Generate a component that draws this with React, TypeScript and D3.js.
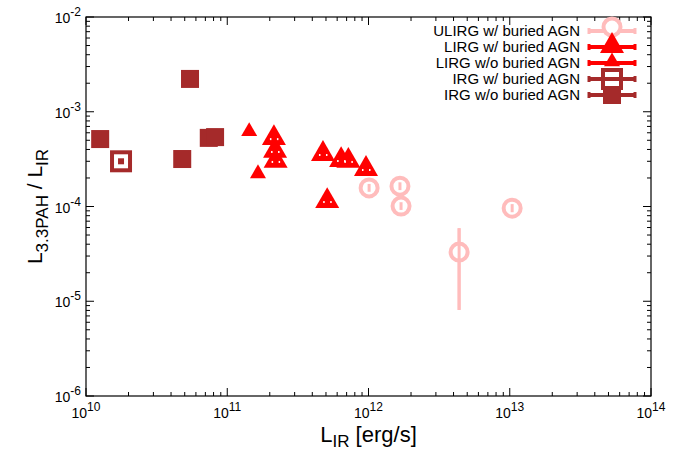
import React from 'react';
import * as d3 from 'd3';

// L_IR [erg/s] and L3.3PAH / L_IR
const ulirgX = [1.01e12, 1.67e12, 1.7e12, 1.04e13, 4.38e12];
const ulirgY = [1.57e-4, 1.64e-4, 1.01e-4, 9.6e-5, 3.3e-5];
const ulirgLo = [1.43e-4, 1.49e-4, 9.2e-5, 8.7e-5, 8.1e-6];
const ulirgHi = [1.73e-4, 1.8e-4, 1.11e-4, 1.06e-4, 5.9e-5];

const lirgAgnX = [2.14e11, 2.18e11, 2.2e11, 4.76e11, 6.4e11, 7.2e11, 9.6e11, 5.1e11];
const lirgAgnY = [5.4e-4, 3.95e-4, 3.1e-4, 3.67e-4, 3.17e-4, 3.1e-4, 2.55e-4, 1.17e-4];

const lirgX = [1.43e11, 1.65e11];
const lirgY = [6.3e-4, 2.26e-4];

const irgAgnX = [1.77e10];
const irgAgnY = [3.0e-4];

const irgX = [1.26e10, 5.45e10, 4.8e10, 7.4e10, 8.2e10];
const irgY = [5.15e-4, 2.22e-3, 3.17e-4, 5.3e-4, 5.4e-4];

const legendLabels = [
  'ULIRG w/ buried AGN',
  'LIRG w/ buried AGN',
  'LIRG w/o buried AGN',
  'IRG w/ buried AGN',
  'IRG w/o buried AGN',
];

const xTickExp = [10, 11, 12, 13, 14];
const yTickExp = [-6, -5, -4, -3, -2];

const PINK = '#ffbcbc';
const RED = '#ff0000';
const BROWN = '#a52a2a';
const FONT = 'Liberation Sans, Arial, Helvetica, sans-serif';

const W = 685, H = 451;
const m = { left: 86, right: 34, top: 17, bottom: 55 };

const x = d3.scaleLog().domain([1e10, 1e14]).range([m.left, W - m.right]);
const y = d3.scaleLog().domain([1e-6, 1e-2]).range([H - m.bottom, m.top]);

const tri = (cx: number, cy: number, w: number) => {
  const h = w * 0.866;
  return `M${cx},${cy - h * 0.62}L${cx + w / 2},${cy + h * 0.38}L${cx - w / 2},${cy + h * 0.38}Z`;
};

const Circle = ({ cx, cy }: { cx: number; cy: number }) => (
  <circle cx={cx} cy={cy} r={8.5} fill="white" stroke={PINK} strokeWidth={4} />
);

const App = () => {
  const [x0, x1] = x.range();
  const [y0, y1] = y.range();

  // minor ticks
  const xMinor: number[] = [];
  for (let e = 10; e < 14; e++) for (let k = 2; k <= 9; k++) xMinor.push(k * 10 ** e);
  const yMinor: number[] = [];
  for (let e = -6; e < -2; e++) for (let k = 2; k <= 9; k++) yMinor.push(k * 10 ** e);

  const legX = 612;
  const legY = (i: number) => 31 + i * 16;

  return (
    <svg width={W} height={H} style={{ position: 'absolute', left: 0, top: 0, background: 'white' }}
      fontFamily={FONT}>
      {/* ticks */}
      <g stroke="black" strokeWidth={1}>
        {xTickExp.map(e => {
          const px = x(10 ** e);
          return <g key={'xt' + e}>
            <line x1={px} x2={px} y1={y0} y2={y0 - 8} />
            <line x1={px} x2={px} y1={y1} y2={y1 + 8} />
          </g>;
        })}
        {xMinor.map((v, i) => {
          const px = x(v);
          return <g key={'xm' + i}>
            <line x1={px} x2={px} y1={y0} y2={y0 - 4} />
            <line x1={px} x2={px} y1={y1} y2={y1 + 4} />
          </g>;
        })}
        {yTickExp.map(e => {
          const py = y(10 ** e);
          return <g key={'yt' + e}>
            <line x1={x0} x2={x0 + 8} y1={py} y2={py} />
            <line x1={x1} x2={x1 - 8} y1={py} y2={py} />
          </g>;
        })}
        {yMinor.map((v, i) => {
          const py = y(v);
          return <g key={'ym' + i}>
            <line x1={x0} x2={x0 + 4} y1={py} y2={py} />
            <line x1={x1} x2={x1 - 4} y1={py} y2={py} />
          </g>;
        })}
      </g>
      <rect x={x0} y={y1} width={x1 - x0} height={y0 - y1} fill="none" stroke="black" strokeWidth={1.2} />

      {/* tick labels */}
      {xTickExp.map(e => (
        <text key={'xl' + e} x={x(10 ** e)} y={y0 + 22} textAnchor="middle" fontSize={14}>
          10<tspan dy={-7} fontSize={12}>{e}</tspan>
        </text>
      ))}
      {yTickExp.map(e => (
        <text key={'yl' + e} x={x0 - 5} y={y(10 ** e) + 6} textAnchor="end" fontSize={14}>
          10<tspan dy={-7} fontSize={12}>{e}</tspan>
        </text>
      ))}

      {/* axis titles */}
      <text x={(x0 + x1) / 2} y={442} textAnchor="middle" fontSize={22}>
        L<tspan dy={5} fontSize={17}>IR</tspan><tspan dy={-5}> [erg/s]</tspan>
      </text>
      <text transform={`translate(42,${(y0 + y1) / 2}) rotate(-90)`} textAnchor="middle" fontSize={21}>
        L<tspan dy={6} fontSize={17}>3.3PAH</tspan><tspan dy={-6}> / L</tspan>
        <tspan dy={6} fontSize={17}>IR</tspan>
      </text>

      {/* ULIRG w/ buried AGN */}
      {ulirgX.map((v, i) => (
        <line key={'ue' + i} x1={x(v)} x2={x(v)} y1={y(ulirgLo[i])} y2={y(ulirgHi[i])}
          stroke={PINK} strokeWidth={3} />
      ))}
      {ulirgX.map((v, i) => <Circle key={'uc' + i} cx={x(v)} cy={y(ulirgY[i])} />)}
      {ulirgX.map((v, i) => (
        <line key={'ui' + i} x1={x(v)} x2={x(v)} y1={y(ulirgLo[i])} y2={y(ulirgHi[i])}
          stroke={PINK} strokeWidth={3} />
      ))}

      {/* LIRG w/ buried AGN */}
      {lirgAgnX.map((v, i) => (
        <path key={'la' + i} d={tri(x(v), y(lirgAgnY[i]), 24)} fill={RED} />
      ))}
      {lirgAgnX.map((v, i) => (
        <g key={'lad' + i} fill="white">
          <rect x={x(v) - 4} y={y(lirgAgnY[i]) + 1} width={1.5} height={2} />
          <rect x={x(v) + 3} y={y(lirgAgnY[i]) + 1} width={1.5} height={2} />
        </g>
      ))}

      {/* LIRG w/o buried AGN */}
      {lirgX.map((v, i) => (
        <path key={'l' + i} d={tri(x(v), y(lirgY[i]), 16)} fill={RED} />
      ))}

      {/* IRG w/ buried AGN */}
      {irgAgnX.map((v, i) => (
        <g key={'ia' + i}>
          <rect x={x(v) - 9} y={y(irgAgnY[i]) - 9} width={18} height={18} fill="white" stroke={BROWN} strokeWidth={4} />
          <rect x={x(v) - 3} y={y(irgAgnY[i]) - 3} width={6} height={6} fill={BROWN} />
        </g>
      ))}

      {/* IRG w/o buried AGN */}
      {irgX.map((v, i) => (
        <rect key={'i' + i} x={x(v) - 9} y={y(irgY[i]) - 9} width={18} height={18} fill={BROWN} />
      ))}

      {/* legend */}
      {legendLabels.map((t, i) => {
        const ly = legY(i);
        const col = i === 0 ? PINK : i < 3 ? RED : BROWN;
        return (
          <g key={'lg' + i}>
            <text x={580} y={ly + 5} textAnchor="end" fontSize={15}>{t}</text>
            <line x1={589} x2={635} y1={ly} y2={ly} stroke={col} strokeWidth={4} />
            <line x1={589} x2={589} y1={ly - 3} y2={ly + 3} stroke={col} strokeWidth={3} />
            <line x1={635} x2={635} y1={ly - 3} y2={ly + 3} stroke={col} strokeWidth={3} />
            {i === 0 && <Circle cx={legX} cy={ly - 4} />}
            {i === 1 && <path d={tri(legX, ly - 2, 24)} fill={RED} />}
            {i === 2 && <path d={tri(legX, ly - 2, 16)} fill={RED} />}
            {i === 3 && <g>
              <rect x={legX - 9} y={ly - 9} width={18} height={18} fill="white" stroke={BROWN} strokeWidth={4} />
              <line x1={legX - 7} x2={legX + 7} y1={ly} y2={ly} stroke={BROWN} strokeWidth={4} />
            </g>}
            {i === 4 && <rect x={legX - 9} y={ly - 9} width={18} height={18} fill={BROWN} />}
          </g>
        );
      })}
    </svg>
  );
};

export default App;
